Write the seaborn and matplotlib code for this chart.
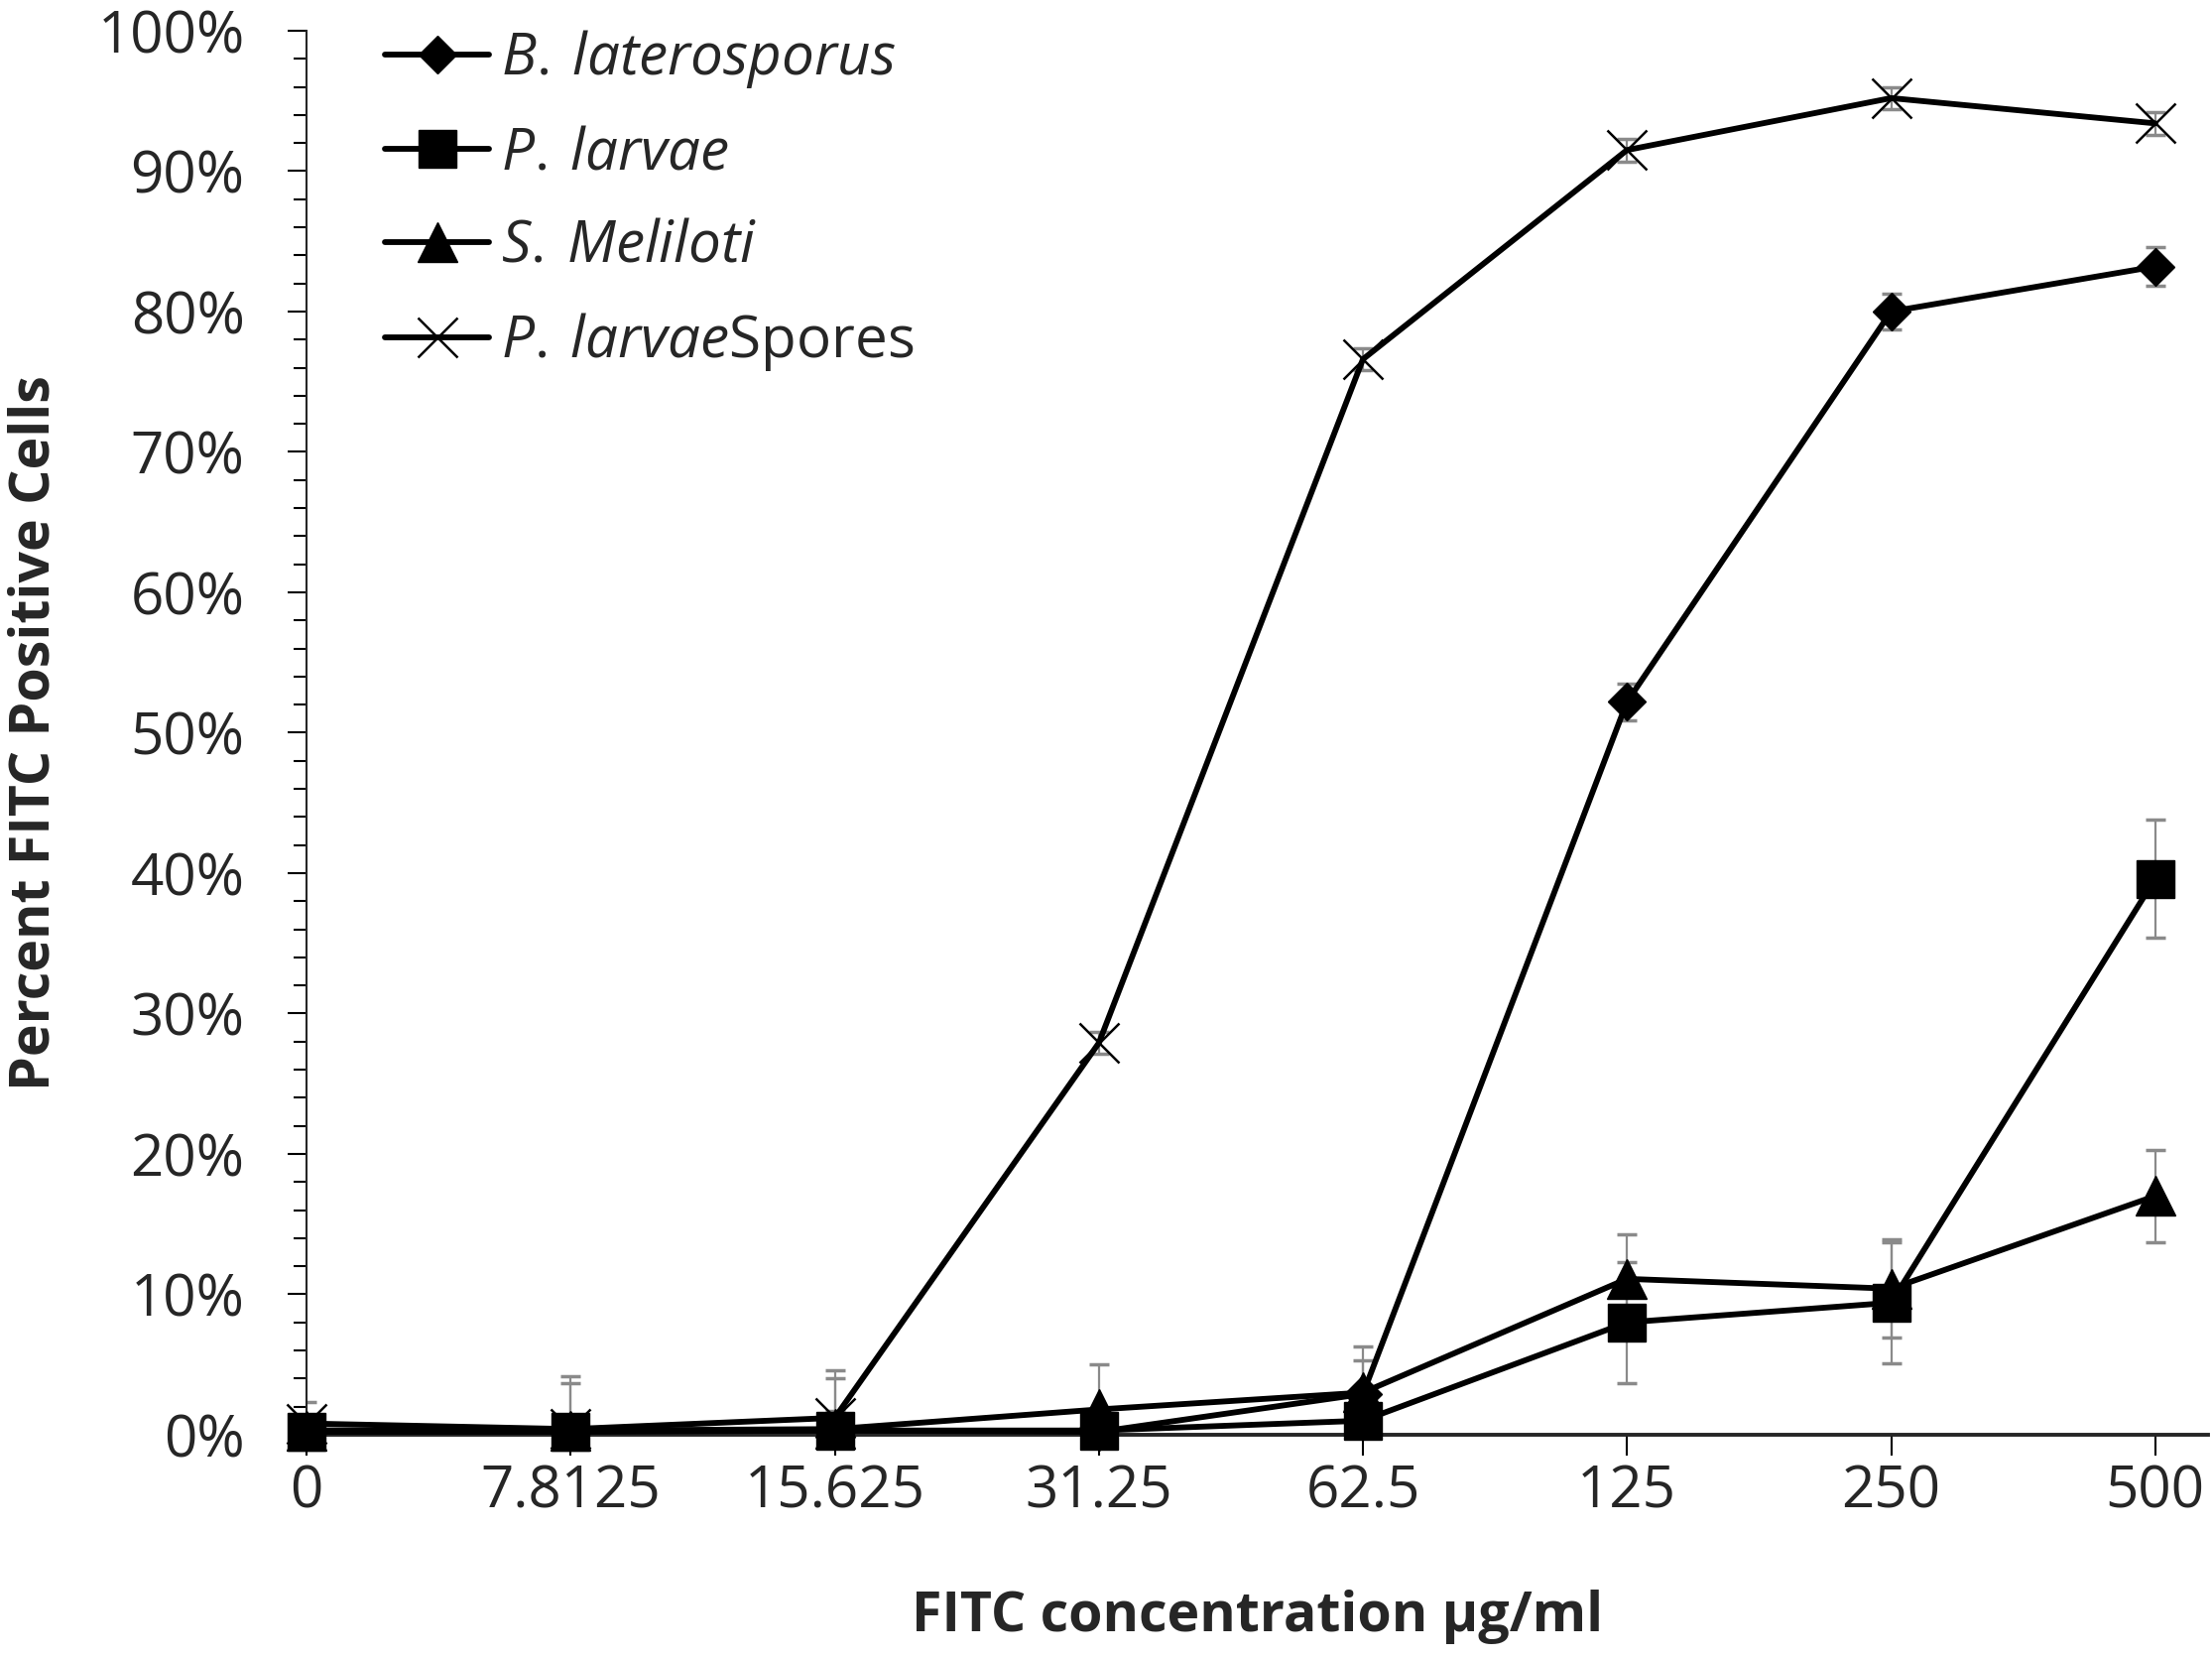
import numpy as np
import matplotlib
matplotlib.use("Agg")
import matplotlib.pyplot as plt
import seaborn as sns
from matplotlib.ticker import MultipleLocator, PercentFormatter

# FITC concentration (ug/ml) - shown as evenly spaced categories
conc = ["0", "7.8125", "15.625", "31.25", "62.5", "125", "250", "500"]

# percent FITC positive cells and error bars
b_lat = [0.3, 0.3, 0.3, 0.2, 2.9, 52.2, 80.0, 83.2]
b_lat_err = [0.5, 0.5, 0.5, 0.5, 2.4, 1.3, 1.3, 1.4]

p_larv = [0.2, 0.2, 0.3, 0.3, 1.0, 8.0, 9.4, 39.6]
p_larv_err = [0.5, 4.0, 4.3, 0.5, 0.5, 4.3, 4.3, 4.2]

s_mel = [0.3, 0.3, 0.4, 1.8, 3.0, 11.1, 10.4, 17.0]
s_mel_err = [2.0, 3.4, 3.6, 3.2, 3.3, 3.2, 3.5, 3.3]

spores = [0.8, 0.4, 1.2, 27.9, 76.6, 91.5, 95.2, 93.4]
spores_err = [0.5, 0.5, 0.5, 0.8, 0.8, 0.8, 0.8, 0.8]

labels = [r"$\mathit{B.\:laterosporus}$", r"$\mathit{P.\:larvae}$",
          r"$\mathit{S.\:Meliloti}$", r"$\mathit{P.\:larvae}$Spores"]
markers = ["D", "s", "^", "x"]
msizes = [19, 27, 29, 29]

sns.set_theme(style="ticks")
plt.rcParams["font.family"] = ["Open Sans", "DejaVu Sans"]
plt.rcParams["mathtext.fontset"] = "custom"
plt.rcParams["mathtext.it"] = "Open Sans:italic"
plt.rcParams["mathtext.rm"] = "Open Sans"

fig = plt.figure(figsize=(22.3, 16.72), dpi=100)
ax = fig.add_axes([0.1386, 0.1352, 0.8596, 0.8463])

pos = np.arange(len(conc))
all_vals = [b_lat, p_larv, s_mel, spores]
all_errs = [b_lat_err, p_larv_err, s_mel_err, spores_err]

for vals, errs, lab, mk, ms in zip(all_vals, all_errs, labels, markers, msizes):
    y = np.array(vals) / 100
    ax.errorbar(pos, y, yerr=np.array(errs) / 100, fmt="none",
                ecolor="#8a8a8a", elinewidth=1.6, capsize=7, capthick=2.5, zorder=2)
    sns.pointplot(x=conc, y=y, order=conc, color="black", markers=mk,
                  errorbar=None, ax=ax, markersize=ms,
                  markeredgewidth=1.8 if mk == "x" else 1,
                  linewidth=4.2, label=lab, clip_on=False, zorder=3)

ax.set_xlim(0, 7.2)
ax.set_ylim(0, 1)
ax.yaxis.set_major_locator(MultipleLocator(0.1))
ax.yaxis.set_minor_locator(MultipleLocator(0.02))
ax.yaxis.set_major_formatter(PercentFormatter(1.0, decimals=0))

sns.despine(ax=ax)
ax.spines["left"].set_linewidth(1.5)
ax.spines["bottom"].set_linewidth(2.8)
ax.tick_params(axis="y", which="major", direction="out", length=14, width=1.5,
               labelsize=42, pad=31, color="black")
ax.tick_params(axis="y", which="minor", direction="out", length=9.5, width=1.5, color="black")
ax.tick_params(axis="x", direction="out", length=15, width=1.5, labelsize=42, pad=6, color="black")

ax.set_xlabel("FITC concentration µg/ml", fontsize=40, fontweight="bold", labelpad=49)
ax.set_ylabel("Percent FITC Positive Cells", fontsize=40, fontweight="bold", labelpad=26)

handles, labs = ax.get_legend_handles_labels()
ax.legend(handles, labs, loc="upper left", bbox_to_anchor=(388 / 2230, 1 - 28 / 1672),
          bbox_transform=fig.transFigure, frameon=False, fontsize=42,
          borderpad=0, borderaxespad=0, handlelength=1.8, handletextpad=0.2,
          labelspacing=0.6)

fig.savefig("out.png", dpi=100, facecolor="white")
